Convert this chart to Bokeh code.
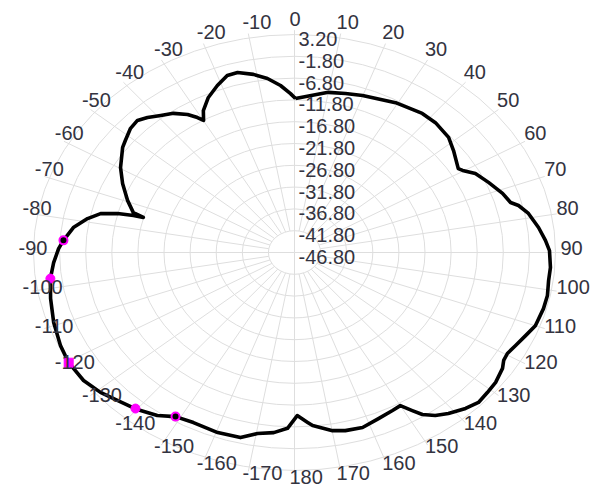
import numpy as np
from bokeh.plotting import figure
from bokeh.models import Range1d
from bokeh.embed import file_html
from bokeh.resources import INLINE
from bokeh.core.properties import value

# ---- data (angle in degrees, clockwise from top; gain in dB) ----
angles = [0.3, 10.0, 15.0, 19.9, 29.4, 37.5, 42.2, 48.2, 52.5, 58.5, 59.7, 62.4,
          66.6, 71.2, 74.5, 75.9, 78.7, 83.0, 86.7, 89.5, 94.0, 97.5, 101.5, 105.1,
          110.0, 113.3, 116.8, 119.6, 121.7, 123.7, 127.7, 131.0, 134.3, 137.5, 141.4,
          144.2, 146.6, 148.1, 150.0, 152.6, 157.1, 162.0, 166.6, 169.9, 175.0, 176.3,
          179.2, 181.9, 185.5, 189.7, 193.7, 199.6, 206.4, 211.2, 215.1, 219.9, 225.0,
          229.2, 234.0, 239.7, 244.6, 250.8, 257.3, 262.7, 267.1, 271.1, 273.6, 277.7,
          281.1, 283.5, 284.8, 285.4, 285.5, 286.5, 290.5, 295.7, 300.3, 306.2, 308.4,
          312.2, 315.2, 317.7, 320.8, 324.0, 327.1, 329.0, 330.1, 331.8, 335.1, 338.9,
          342.4, 345.2, 349.1, 352.6, 356.0, 358.8]
gain_db = [-11.5, -9.5, -9.05, -8.5, -7.35, -6.6, -6.6, -7.2, -8.4, -10.0, -9.5, -7.7,
           -6.3, -4.7, -3.85, -2.55, -1.1, 0.3, 1.35, 2.05, 2.35, 2.3, 2.65, 2.6,
           2.3, 1.4, 0.6, 0.1, 0.3, 1.1, 1.9, 2.15, 2.45, 1.7, 0.45,
           -0.7, -2.3, -4.1, -6.25, -6.0, -5.45, -4.6, -4.8, -5.3, -6.95, -7.75,
           -9.4, -6.45, -5.3, -4.7, -3.1, -2.95, -3.25, -2.8, -1.1, 0.15, 1.2,
           2.3, 3.15, 3.3, 2.85, 2.05, 1.1, 0.35, -0.6, -1.6, -2.45, -4.05,
           -6.4, -8.6, -11.75, -14.8, -16.75, -14.6, -12.65, -10.25, -8.2, -6.0, -5.45,
           -4.4, -4.1, -4.95, -6.25, -7.35, -9.1, -10.7, -11.85, -9.85, -7.6, -5.75,
           -4.2, -4.1, -5.2, -6.55, -8.4, -10.35]

marker_angles = [-86.4, -97.3, -120.3, -139.6, -148.8]
marker_db = [-2.45, 0.35, 3.3, 0.2, -2.8]
marker_kind = ["ring", "circle", "square", "circle", "ring"]

ring_values = [3.2, -1.8, -6.8, -11.8, -16.8, -21.8, -26.8, -31.8, -36.8, -41.8, -46.8]
ring_labels = ["3.20", "-1.80", "-6.80", "-11.80", "-16.80", "-21.80", "-26.80",
               "-31.80", "-36.80", "-41.80", "-46.80"]
angle_ticks = [0, 10, 20, 30, 40, 50, 60, 70, 80, 90, 100, 110, 120, 130, 140, 150, 160,
               170, 180, -170, -160, -150, -140, -130, -120, -110, -100, -90, -80, -70,
               -60, -50, -40, -30, -20, -10]
angle_labels = ["0", "10", "20", "30", "40", "50", "60", "70", "80", "90", "100", "110",
                "120", "130", "140", "150", "160", "170", "180", "-170", "-160", "-150",
                "-140", "-130", "-120", "-110", "-100", "-90", "-80", "-70", "-60", "-50",
                "-40", "-30", "-20", "-10"]

DB_MIN = -46.8
DB_PER_RING = 5.0

# ---- layout ----
W, H = 590, 486
CX, CY = 294, 252          # pixel position of pole inside figure
SX, SY = 26.1, 21.8        # pixels per ring horizontally / vertically

p = figure(width=W, height=H, output_backend="svg", toolbar_location=None,
           x_range=Range1d(-CX / SX, (W - CX) / SX),
           y_range=Range1d(-(H - CY) / SY, CY / SY),
           x_axis_type=None, y_axis_type=None, min_border=0,
           background_fill_color="white", border_fill_color="white")
p.outline_line_color = None
p.grid.visible = False

GRID = "#dedede"
n_rings = len(ring_values) - 1

def to_r(db):
    return np.clip((np.asarray(db, dtype=float) - DB_MIN) / DB_PER_RING, 0, None)

# rings
ks = np.arange(1, n_rings + 1)
p.ellipse(x=0, y=0, width=2 * ks, height=2 * ks, fill_color=None,
          line_color=GRID, line_width=1)

# spokes
spoke = np.arange(0, 360, 10)
r0 = np.where(spoke % 90 == 0, 0.0, 1.0)
r1 = n_rings + 0.2
th = np.radians(spoke)
p.segment(x0=r0 * np.sin(th), y0=r0 * np.cos(th), x1=r1 * np.sin(th), y1=r1 * np.cos(th),
          line_color=GRID, line_width=1)

# curve
a = np.radians(np.array(angles + [angles[0]]))
r = to_r(gain_db + [gain_db[0]])
p.line(r * np.sin(a), r * np.cos(a), line_color="black", line_width=3.6,
       line_join="round")

# markers
ma = np.radians(np.array(marker_angles))
mr = to_r(marker_db)
mx, my = mr * np.sin(ma), mr * np.cos(ma)
for x, y, k in zip(mx, my, marker_kind):
    if k == "ring":
        p.scatter([x], [y], marker="circle", size=8, fill_color="black",
                  line_color="magenta", line_width=2)
    else:
        p.scatter([x], [y], marker=k, size=9, fill_color="magenta",
                  line_color="magenta")

TXT = "#333340"
FONT = value("Liberation Sans")

# radial labels
rr = to_r(ring_values)
p.text(x=[4 / SX] * len(rr), y=list(rr - 4.5 / SY), text=ring_labels,
       text_font=FONT, text_font_size="20px", text_color=TXT,
       text_align="left", text_baseline="middle")

# angle labels
ta = np.radians(np.array(angle_ticks))
lx = (-5 + 271 * np.sin(ta)) / SX
ly = (5 + 229 * np.cos(ta)) / SY
p.text(x=list(lx), y=list(ly), text=angle_labels, text_font=FONT,
       text_font_size="20px", text_color=TXT, text_align="left",
       text_baseline="middle")

open("out.html", "w").write(file_html(p, INLINE))
